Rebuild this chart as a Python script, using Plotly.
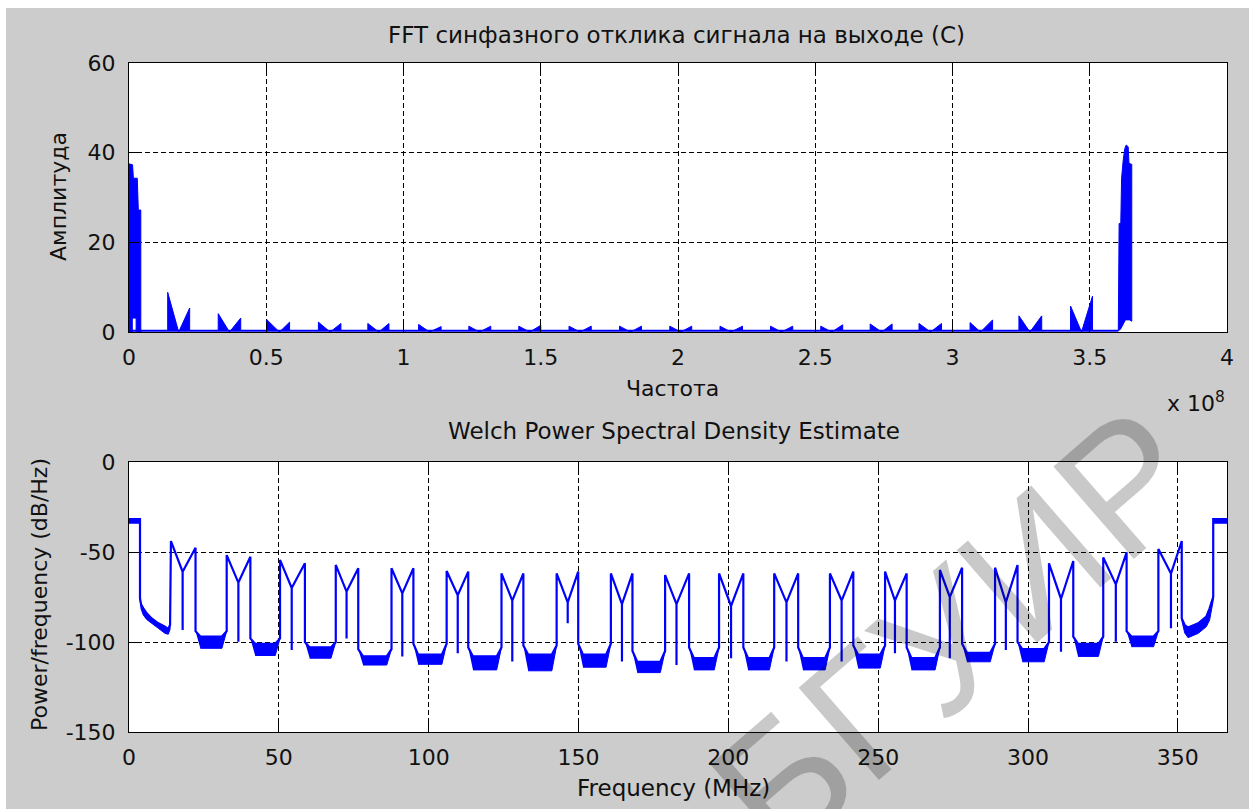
import plotly.graph_objects as go

W, H = 1249, 809

# ---------------- upper panel: FFT amplitude (frequency in 1e8 Hz) ----------------
fft_floor = 0.3
fft_floor_end = 3.604

# DC band (upper and lower envelopes)
dc_f = [0.0, 0.013, 0.016, 0.030, 0.034, 0.041, 0.043]
dc_upper = [37.5, 37.3, 34.3, 34.3, 27.2, 27.2, 27.2]
dc_lower_f = [0.0, 0.012, 0.012, 0.026, 0.026, 0.043]
dc_lower = [0.0, 0.0, 3.1, 3.1, 0.0, 0.0]

# high band near Nyquist
hb_f = [3.604, 3.607, 3.613, 3.616, 3.622, 3.628, 3.633, 3.640, 3.643, 3.650, 3.653]
hb_upper = [0.3, 24.2, 24.2, 34.3, 38.4, 41.0, 41.7, 41.3, 37.6, 37.4, 37.4]
hb_lower_f = [3.604, 3.612, 3.620, 3.630, 3.645, 3.653]
hb_lower = [0.3, 0.6, 1.6, 2.7, 2.7, 2.4]

# side lobes: left edge, notch, right edge, and edge amplitudes
lobe_left = [0.141, 0.325, 0.502, 0.690, 0.870, 1.055, 1.238, 1.420, 1.603, 1.787,
             1.970, 2.153, 2.337, 2.520, 2.700, 2.878, 3.064, 3.242, 3.430]
lobe_notch = [0.181, 0.366, 0.548, 0.733, 0.910, 1.095, 1.277, 1.460, 1.643, 1.827,
              2.010, 2.193, 2.377, 2.560, 2.742, 2.920, 3.102, 3.282, 3.470]
lobe_right = [0.221, 0.407, 0.585, 0.772, 0.947, 1.137, 1.318, 1.500, 1.684, 1.867,
              2.050, 2.235, 2.418, 2.600, 2.780, 2.960, 3.146, 3.325, 3.510]
lobe_amp_l = [8.85, 4.1, 2.75, 2.2, 1.9, 1.7, 1.3, 1.3, 1.3, 1.3,
              1.3, 1.3, 1.3, 1.3, 1.8, 1.9, 2.1, 3.6, 5.8]
lobe_amp_r = [5.35, 3.1, 2.2, 1.9, 1.9, 1.2, 1.3, 1.5, 1.3, 1.3,
              1.3, 1.3, 1.3, 1.6, 1.8, 1.9, 2.7, 3.6, 8.0]

# ---------------- lower panel: Welch PSD (MHz, dB/Hz) ----------------
plateau_lo_f = [0.0, 3.67]
plateau_hi_f = [361.8, 366.4]
plateau_top = -31.7
plateau_bot = -34.0

head_f = [3.67, 4.0, 4.78, 5.9, 7.56, 9.79, 12.0, 13.1, 13.7]
head_top = [-75.7, -79.0, -81.3, -84.1, -86.9, -89.6, -91.5, -92.8, -90.6]
head_bot = [-75.7, -81.5, -85.0, -87.5, -89.6, -92.4, -95.2, -95.7, -93.0]

tail_f = [351.3, 352.3, 353.4, 356.8, 359.5, 360.6, 361.2, 361.8]
tail_top = [-86.9, -90.6, -92.0, -89.6, -85.9, -81.3, -77.6, -75.0]
tail_bot = [-88.0, -95.0, -97.6, -95.2, -91.5, -87.8, -82.0, -77.0]

psd_a = [14.0, 32.6, 50.4, 69.0, 87.6, 106.0, 124.3, 142.7, 160.8, 178.9,
         196.9, 215.3, 233.9, 252.3, 270.6, 289.0, 307.0, 325.1, 343.5]
psd_c = [17.9, 36.5, 54.3, 72.6, 91.2, 109.7, 127.9, 146.4, 164.5, 182.7,
         200.9, 219.4, 237.8, 255.6, 273.9, 292.6, 311.0, 329.3, 347.7]
psd_b = [22.2, 40.5, 58.7, 76.5, 94.9, 113.2, 131.6, 149.9, 168.0, 186.9,
         205.0, 223.3, 241.7, 259.5, 278.0, 296.5, 315.1, 332.9, 351.3]
psd_p1 = [-43.9, -51.7, -54.4, -57.2, -59.0, -60.6, -61.9, -61.9, -61.9, -62.8,
          -61.9, -61.9, -61.9, -60.9, -60.0, -58.7, -56.3, -53.1, -48.3]
psd_p2 = [-47.6, -52.6, -56.3, -59.0, -59.0, -60.9, -61.9, -60.9, -61.9, -61.9,
          -61.9, -61.9, -60.9, -61.9, -58.7, -57.2, -55.0, -50.2, -43.9]
psd_dip = [-61, -67, -70, -72, -73, -74, -77, -78, -79, -79,
           -80, -78, -77, -77, -75, -78, -76, -68, -62]
psd_spike = [-93.3, -99.8, -104.4, -98.0, -108.0, -106.3, -110.9, -89.6, -110.9, -112.8,
             -109.0, -110.9, -110.9, -106.3, -109.0, -104.4, -105.4, -99.8, -92.4]

# noise floor between consecutive lobes
floor_edge = [-94, -98, -100, -104, -101, -103, -102, -101, -105,
              -103, -103, -103, -102, -103, -101, -100, -97, -94]
floor_top = [-97, -101, -103, -108, -107, -108, -107, -107, -111,
             -109, -109, -109, -107, -109, -106, -104, -101, -97]
floor_bot = [-103.5, -107.5, -109, -112.8, -112.4, -115.5, -116, -114, -117,
             -115.5, -115.5, -115.5, -114.5, -115.5, -111, -111, -108, -102.6]

BLUE = "#0000FF"
FIG_BG = "#CCCCCC"
FONT = "DejaVu Sans"
TEXT = "#111111"
BOWL = 1.6  # MHz over which the floor bends toward the lobe edges

# ---------- upper panel shapes ----------
poly_x, poly_y = [], []
poly_x += dc_f + dc_lower_f[::-1] + [None]
poly_y += dc_upper + dc_lower[::-1] + [None]
poly_x += hb_f + hb_lower_f[::-1] + [None]
poly_y += hb_upper + hb_lower[::-1] + [None]
for a, c, b, l, r in zip(lobe_left, lobe_notch, lobe_right, lobe_amp_l, lobe_amp_r):
    poly_x += [a, a, c, b, b, None]
    poly_y += [fft_floor, l, 0.0, r, fft_floor, None]

# ---------- lower panel path and noise bands ----------
px, py = [], []
px += plateau_lo_f
py += [plateau_top, plateau_top]
px += head_f
py += head_top
n = len(psd_a)
for k in range(n):
    a, c, b = psd_a[k], psd_c[k], psd_b[k]
    px += [a, c, c, c, b]
    py += [psd_p1[k], psd_dip[k], psd_spike[k], psd_dip[k], psd_p2[k]]
    if k < n - 1:
        a2 = psd_a[k + 1]
        px += [b, b + BOWL, a2 - BOWL, a2]
        py += [floor_edge[k], floor_top[k], floor_top[k], floor_edge[k]]
px += tail_f
py += tail_top
px += plateau_hi_f
py += [plateau_top, plateau_top]

bx, by = [], []
bx += [plateau_lo_f[0], plateau_lo_f[1], plateau_lo_f[1], plateau_lo_f[0], None]
by += [plateau_top, plateau_top, plateau_bot, plateau_bot, None]
bx += [plateau_hi_f[0], plateau_hi_f[1], plateau_hi_f[1], plateau_hi_f[0], None]
by += [plateau_top, plateau_top, plateau_bot, plateau_bot, None]
bx += head_f + head_f[::-1] + [None]
by += head_top + head_bot[::-1] + [None]
bx += tail_f + tail_f[::-1] + [None]
by += tail_top + tail_bot[::-1] + [None]
for k in range(n - 1):
    b, a2 = psd_b[k], psd_a[k + 1]
    bx += [b, b + BOWL, a2 - BOWL, a2, a2 - BOWL, b + BOWL, None]
    by += [floor_edge[k], floor_top[k], floor_top[k], floor_edge[k],
           floor_bot[k], floor_bot[k], None]

fig = go.Figure()

fig.add_trace(go.Scatter(x=[0.0, fft_floor_end], y=[fft_floor, fft_floor], mode="lines",
                         line=dict(color=BLUE, width=2), xaxis="x", yaxis="y",
                         hoverinfo="skip", showlegend=False))
fig.add_trace(go.Scatter(x=poly_x, y=poly_y, mode="lines", fill="toself",
                         fillcolor=BLUE, line=dict(color=BLUE, width=1),
                         xaxis="x", yaxis="y", hoverinfo="skip", showlegend=False))

fig.add_trace(go.Scatter(x=bx, y=by, mode="lines", fill="toself", fillcolor=BLUE,
                         line=dict(color=BLUE, width=1), xaxis="x2", yaxis="y2",
                         hoverinfo="skip", showlegend=False))
fig.add_trace(go.Scatter(x=px, y=py, mode="lines", line=dict(color=BLUE, width=2.2),
                         xaxis="x2", yaxis="y2", hoverinfo="skip", showlegend=False))


def px2x(v):
    return v / W


def px2y(v):
    return 1 - v / H


axis_common = dict(showline=True, linecolor="black", linewidth=1, mirror="allticks",
                   ticks="inside", ticklen=10, tickcolor="black", showgrid=True,
                   gridcolor="black", gridwidth=1, griddash="5px,3px", zeroline=False,
                   tickfont=dict(family=FONT, size=22, color=TEXT),
                   layer="above traces", fixedrange=True, automargin=False)

top_xt = [0, 0.5, 1, 1.5, 2, 2.5, 3, 3.5, 4]
top_xl = ["0", "0.5", "1", "1.5", "2", "2.5", "3", "3.5", "4"]
top_yt = [0, 20, 40, 60]
bot_xt = [0, 50, 100, 150, 200, 250, 300, 350]
bot_yt = [-150, -100, -50, 0]

fig.update_layout(
    template="none",
    width=W, height=H, autosize=False,
    margin=dict(l=0, r=0, t=0, b=0, pad=0),
    paper_bgcolor=FIG_BG, plot_bgcolor="white",
    showlegend=False,
    xaxis=dict(domain=[px2x(129), px2x(1227)], range=[0, 4], anchor="y",
               tickvals=top_xt, ticktext=top_xl, ticklabelstandoff=6, **axis_common),
    yaxis=dict(domain=[px2y(332), px2y(63)], range=[0, 60], anchor="x",
               tickvals=top_yt, ticktext=[str(v) for v in top_yt],
               ticklabelstandoff=8, **axis_common),
    xaxis2=dict(domain=[px2x(129), px2x(1227)], range=[0, 366.4], anchor="y2",
                tickvals=bot_xt, ticktext=[str(v) for v in bot_xt],
                ticklabelstandoff=6, **axis_common),
    yaxis2=dict(domain=[px2y(732), px2y(462)], range=[-150, 0], anchor="x2",
                tickvals=bot_yt, ticktext=[str(v) for v in bot_yt],
                ticklabelstandoff=8, **axis_common),
    shapes=[
        dict(type="rect", xref="paper", yref="paper", x0=0, x1=1, y0=px2y(8), y1=1,
             fillcolor="white", line=dict(width=0), layer="below"),
        dict(type="rect", xref="paper", yref="paper", x0=0, x1=px2x(6), y0=0, y1=1,
             fillcolor="white", line=dict(width=0), layer="below"),
    ],
)


def label(text, x, y, size=22, angle=0, xanchor="center"):
    fig.add_annotation(text=text, x=px2x(x), y=px2y(y), xref="paper", yref="paper",
                       showarrow=False, textangle=angle, xanchor=xanchor,
                       yanchor="middle", font=dict(family=FONT, size=size, color=TEXT))


label("FFT синфазного отклика сигнала на выходе (С)", 676, 35, size=23)
label("Частота", 672, 388)
label("Амплитуда", 58, 197, angle=-90)
label("x 10<sup>8</sup>", 1165, 402, xanchor="left")
label("Welch Power Spectral Density Estimate", 674, 431, size=23)
label("Frequency (MHz)", 673, 788, size=23)
label("Power/frequency (dB/Hz)", 39, 595, angle=-90)

fig.add_annotation(text="БГУИР", x=px2x(955), y=px2y(632), xref="paper", yref="paper",
                   showarrow=False, textangle=-41, xanchor="center", yanchor="middle",
                   font=dict(family="Liberation Sans", size=178, color="rgba(0,0,0,0.21)"))

fig.write_html("out.html")
